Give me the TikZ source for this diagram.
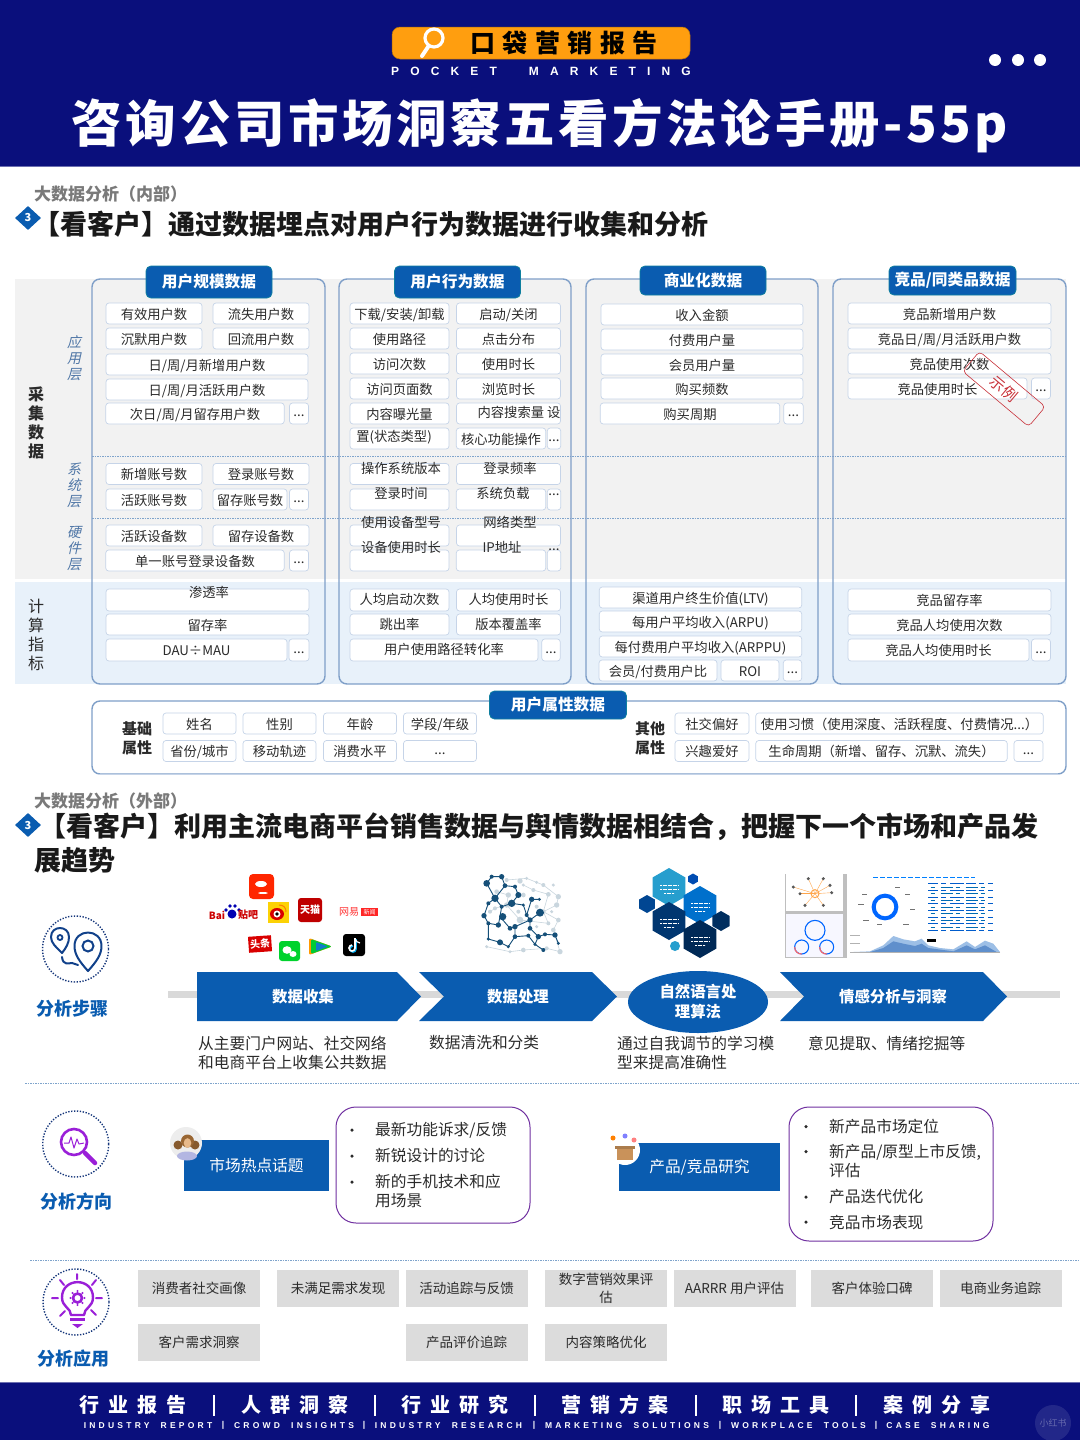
\documentclass[tikz,border=0pt]{standalone}
\usepackage{fontspec}
\usetikzlibrary{shapes.geometric}
\setmainfont{Noto Sans CJK SC}
\newfontfamily\titlefont[LetterSpace=7.1]{Noto Sans CJK SC}
\newfontfamily\brandfont[LetterSpace=30]{Noto Sans CJK SC}
\newfontfamily\footfont[LetterSpace=45]{Noto Sans CJK SC}
\newfontfamily\slantfont[FakeSlant=0.22]{Noto Sans CJK SC}
\newfontfamily\pocketfont[LetterSpace=93, WordSpace=2.2]{Liberation Sans}
\newfontfamily\footenfont[LetterSpace=38, WordSpace=2]{Liberation Sans}

\definecolor{navy}{HTML}{0A0F7C}
\definecolor{amber}{HTML}{FF9E0F}
\definecolor{brandblue}{HTML}{0A5CB0}
\definecolor{ink}{HTML}{2B2B2B}
\definecolor{cellline}{HTML}{C6D4E8}
\definecolor{panelline}{HTML}{7F9FC8}
\definecolor{sheetgrey}{HTML}{F2F2F2}
\definecolor{sheetblue}{HTML}{E8F1FA}
\definecolor{stampred}{HTML}{C8323A}
\definecolor{tagteal}{HTML}{0F7F9F}
\definecolor{violet}{HTML}{9A1FD8}
\definecolor{boxviolet}{HTML}{7030A0}
\definecolor{ringblue}{HTML}{14357A}
\definecolor{greycell}{HTML}{DCDCDC}
\definecolor{dashblue}{HTML}{7FA4CC}
\definecolor{molblue}{HTML}{154F78}
\definecolor{mollight}{HTML}{C9D6DE}
\definecolor{layerblue}{HTML}{4F76A6}
\definecolor{chartlight}{HTML}{9DBFE6}
\definecolor{chartdeep}{HTML}{5F8FCC}
\definecolor{giftbrown}{HTML}{C9925A}

\tikzset{
    cell/.style 2 args={draw=cellline, fill=white, rounded corners=3pt, line width=0.7pt,
        minimum width=#1pt, minimum height=#2pt, inner sep=0pt, text=ink,
        font=\fontsize{13.3}{15}\selectfont, text height=12pt, text depth=1pt},
    dotcell/.style 2 args={cell={#1}{#2}, text height=8pt, text depth=2pt},
    ctext/.style={inner sep=0pt, text=ink, font=\fontsize{13.3}{15}\selectfont},
    panel/.style 2 args={draw=panelline, rounded corners=8pt, line width=1.4pt,
        minimum width=#1pt, minimum height=#2pt, inner sep=0pt},
    tag/.style 2 args={draw=tagteal, fill=brandblue, rounded corners=5pt, line width=0.8pt,
        minimum width=#1pt, minimum height=#2pt, inner sep=0pt, text=white,
        font=\fontsize{15.7}{17}\selectfont\bfseries},
    sidehead/.style={inner sep=0pt, text=ink, align=center, font=\fontsize{15}{19}\selectfont\bfseries},
    layer/.style={inner sep=0pt, text=layerblue, font=\fontsize{14}{16}\selectfont\slantfont, align=center},
    sechead/.style={anchor=west, inner sep=0pt, text=black!52, font=\fontsize{17}{19}\selectfont\bfseries},
    secbody/.style={anchor=west, inner sep=0pt, text=black!90, font=\fontsize{27}{33}\selectfont\bfseries},
    secmark/.style={diamond, fill=brandblue, minimum width=26pt, minimum height=24pt, inner sep=0pt,
        text=white, font=\fontsize{11}{12}\selectfont\bfseries},
    flow/.style={fill=brandblue},
    flowtext/.style={inner sep=0pt, text=white, align=center, font=\fontsize{15.4}{20}\selectfont\bfseries},
    note/.style={anchor=west, inner sep=0pt, text=ink, align=left, font=\fontsize{15.7}{19}\selectfont},
    ring/.style={circle, draw=ringblue, line width=1.4pt, dash pattern=on 1.3pt off 1.6pt,
        minimum size=66pt, inner sep=0pt},
    rowhead/.style={inner sep=0pt, text=brandblue, font=\fontsize{18}{20}\selectfont\bfseries},
    topicbox/.style 2 args={fill=brandblue, minimum width=#1pt, minimum height=#2pt, inner sep=0pt,
        text=white, font=\fontsize{15.7}{17}\selectfont},
    listbox/.style 2 args={draw=boxviolet, fill=white, rounded corners=20pt, line width=1pt,
        minimum width=#1pt, minimum height=#2pt, inner sep=0pt},
    bullet/.style={circle, fill=ink, minimum size=3.5pt, inner sep=0pt},
    greybox/.style={fill=greycell, minimum width=122pt, minimum height=37pt, inner sep=0pt,
        text=ink, align=center, font=\fontsize{13.5}{18}\selectfont},
    hexa/.style={regular polygon, regular polygon sides=6, shape border rotate=30,
        minimum size=#1pt, inner sep=0pt},
    logotext/.style={inner sep=0pt, text=white, font=\fontsize{9}{10}\selectfont\bfseries},
    dashrule/.style={draw=dashblue, line width=0.8pt, dash pattern=on 1.5pt off 1pt},
}

\begin{document}
\begin{tikzpicture}[x=1pt, y=-1pt]
    \useasboundingbox (0,0) rectangle (1080,1440);
    \fill[white] (0,0) rectangle (1080,1440);

    % Header band
    \fill[navy] (0,0) rectangle (1080,166);
    \draw[navy!60!white, line width=0.8pt] (0,166) -- (1080,166);
    \node[fill=amber, draw=amber!70!black, rounded corners=8pt, line width=0.5pt, minimum width=298pt, minimum height=32pt, inner sep=0pt] (brand) at (541,43) {};
    \draw[white, line width=3.2pt] (434,38) circle[radius=9pt];
    \draw[white, line width=4pt, line cap=round] (428,47) -- (422,56);
    \node[inner sep=0pt, text=black, font=\fontsize{25}{27}\selectfont\bfseries\brandfont] (brandname) at (564,43) {口袋营销报告};
    \node[inner sep=0pt, text=white, font=\fontsize{12}{14}\selectfont\bfseries\pocketfont] (pocket) at (541,71) {POCKET MARKETING};
    \foreach \dotx/\dotn in {995/a, 1018/b, 1040/c}
        \node[circle, fill=white, minimum size=12pt, inner sep=0pt] (menu\dotn) at (\dotx,60) {};
    \node[inner sep=0pt, text=white, font=\fontsize{50.5}{54}\selectfont\bfseries\titlefont] (title) at (540,126) {咨询公司市场洞察五看方法论手册-55p};

    % Section one heading
    \node[sechead] (head1) at (34,194) {大数据分析（内部）};
    \node[secmark] (mark1) at (28,218) {3};
    \node[secbody] (body1) at (33,224) {【看客户】通过数据埋点对用户行为数据进行收集和分析};

    % Grey and blue sheets
    \fill[sheetgrey] (15,279) rectangle (1066,579);
    \fill[sheetblue] (15,582) rectangle (1066,684);
    \draw[dashrule] (92,456) -- (1066,456);
    \draw[dashrule] (92,518) -- (1066,518);

    % Left side labels
    \node[sidehead, font=\fontsize{16}{19}\selectfont\bfseries] (collect) at (36,423) {采\\集\\数\\据};
    \node[sidehead, font=\fontsize{16}{19}\selectfont] (compute) at (36,635) {计\\算\\指\\标};
    \node[layer] (appl) at (74,358.5) {应\\用\\层};
    \node[layer] (sysl) at (74,485) {系\\统\\层};
    \node[layer] (hwl) at (74,548.5) {硬\\件\\层};

    % Four panels
    \node[panel={233}{405}] (p1) at (208.5,481.5) {};
    \node[panel={232}{405}] (p2) at (455,481.5) {};
    \node[panel={232}{405}] (p3) at (702,481.5) {};
    \node[panel={233}{405}] (p4) at (949.5,481.5) {};
    \node[tag={126}{32}] (t1) at (209,282) {用户规模数据};
    \node[tag={126}{32}] (t2) at (457.5,282) {用户行为数据};
    \node[tag={126}{29}] (t3) at (703,280.5) {商业化数据};
    \node[tag={127}{29}] (t4) at (952.5,280.5) {竞品/同类品数据};

    % Panel one cells
    \node[cell={96}{21}] (u1) at (154,313.5) {有效用户数};
    \node[cell={96}{21}] (u2) at (261,313.5) {流失用户数};
    \node[cell={96}{21}] (u3) at (154,338.5) {沉默用户数};
    \node[cell={96}{21}] (u4) at (261,338.5) {回流用户数};
    \node[cell={202}{21}] (u5) at (207,364.5) {日/周/月新增用户数};
    \node[cell={202}{21}] (u6) at (207,389.5) {日/周/月活跃用户数};
    \node[cell={178.5}{21}] (u7) at (195,413.5) {次日/周/月留存用户数};
    \node[dotcell={19}{21}] (u8) at (299,413.5) {...};
    \node[cell={96}{21}] (u9) at (154,474) {新增账号数};
    \node[cell={96}{21}] (u10) at (261,474) {登录账号数};
    \node[cell={96}{21}] (u11) at (154,499.5) {活跃账号数};
    \node[cell={74}{21}] (u12) at (250,499.5) {留存账号数};
    \node[dotcell={19}{21}] (u13) at (299,499.5) {...};
    \node[cell={96}{21}] (u14) at (154,535.5) {活跃设备数};
    \node[cell={96}{21}] (u15) at (261,535.5) {留存设备数};
    \node[cell={178.5}{21}] (u16) at (195,560.5) {单一账号登录设备数};
    \node[dotcell={19}{21}] (u17) at (299,560.5) {...};
    \node[cell={203}{22}] (u18) at (207.5,600) {};
    \node[ctext] (u18t) at (209,592) {渗透率};
    \node[cell={203}{21}] (u19) at (207.5,624.5) {留存率};
    \node[cell={181}{22}] (u20) at (196.5,650) {DAU÷MAU};
    \node[dotcell={20}{22}] (u21) at (299,650) {...};

    % Panel two cells
    \node[cell={99}{21}] (a1) at (399.5,313.5) {下载/安装/卸载};
    \node[cell={104}{21}] (a2) at (508.5,313.5) {启动/关闭};
    \node[cell={99}{21}] (a3) at (399.5,338.5) {使用路径};
    \node[cell={104}{21}] (a4) at (508.5,338.5) {点击分布};
    \node[cell={99}{21}] (a5) at (399.5,363.5) {访问次数};
    \node[cell={104}{21}] (a6) at (508.5,363.5) {使用时长};
    \node[cell={99}{21}] (a7) at (399.5,388.5) {访问页面数};
    \node[cell={104}{21}] (a8) at (508.5,388.5) {浏览时长};
    \node[cell={99}{21}] (a9) at (399.5,413.5) {内容曝光量};
    \node[cell={104}{21}] (a10) at (508.5,413.5) {};
    \node[ctext] (a10t) at (519,412) {内容搜索量 设};
    \node[cell={99}{21}] (a11) at (399.5,438.5) {};
    \node[ctext] (a11t) at (394,437) {置(状态类型)};
    \node[cell={89.5}{21}] (a12) at (501,438.5) {核心功能操作};
    \node[dotcell={13.5}{21}] (a13) at (554,438.5) {...};
    \node[cell={99}{21}] (a14) at (399.5,474) {};
    \node[ctext] (a14t) at (401,468) {操作系统版本};
    \node[cell={104}{21}] (a15) at (508.5,474) {};
    \node[ctext] (a15t) at (510,468) {登录频率};
    \node[cell={99}{21}] (a16) at (399.5,499.5) {};
    \node[ctext] (a16t) at (401,493) {登录时间};
    \node[cell={89.5}{21}] (a17) at (501,499.5) {};
    \node[ctext] (a17t) at (503,493) {系统负载};
    \node[cell={13.5}{21}] (a18) at (554,499.5) {};
    \node[ctext] (a18t) at (554,495) {...};
    \node[cell={99}{21}] (a19) at (399.5,535.5) {};
    \node[ctext] (a19t) at (401,522) {使用设备型号};
    \node[cell={104}{21}] (a20) at (508.5,535.5) {};
    \node[ctext] (a20t) at (510,522) {网络类型};
    \node[cell={99}{21}] (a21) at (399.5,560.5) {};
    \node[ctext] (a21t) at (401,547) {设备使用时长};
    \node[cell={89.5}{21}] (a22) at (501,560.5) {};
    \node[ctext] (a22t) at (502,547) {IP地址};
    \node[cell={13.5}{21}] (a23) at (554,560.5) {};
    \node[ctext] (a23t) at (554,550) {...};
    \node[cell={99}{22}, text height=10pt] (a24) at (399.5,600) {人均启动次数};
    \node[cell={104}{22}, text height=10pt] (a25) at (508.5,600) {人均使用时长};
    \node[cell={99}{21}, text height=10pt] (a26) at (399.5,624.5) {跳出率};
    \node[cell={104}{21}, text height=10pt] (a27) at (508.5,624.5) {版本覆盖率};
    \node[cell={188}{22}, text height=10pt] (a28) at (444,650) {用户使用路径转化率};
    \node[dotcell={18.5}{22}] (a29) at (551,650) {...};

    % Panel three cells
    \node[cell={202}{21}] (b1) at (702,314.5) {收入金额};
    \node[cell={202}{21}] (b2) at (702,339.5) {付费用户量};
    \node[cell={202}{21}] (b3) at (702,364.5) {会员用户量};
    \node[cell={202}{21}] (b4) at (702,388.5) {购买频数};
    \node[cell={179.5}{21}] (b5) at (690,413.5) {购买周期};
    \node[dotcell={19.5}{21}] (b6) at (793.5,413.5) {...};
    \node[cell={202.5}{21}] (b7) at (700.5,597.5) {渠道用户终生价值(LTV)};
    \node[cell={202.5}{21}] (b8) at (700.5,621.5) {每用户平均收入(ARPU)};
    \node[cell={202.5}{21}] (b9) at (700.5,646.5) {每付费用户平均收入(ARPPU)};
    \node[cell={118}{21}] (b10) at (658,670.5) {会员/付费用户比};
    \node[cell={58}{21}] (b11) at (750,670.5) {ROI};
    \node[dotcell={18.5}{21}] (b12) at (792.5,670.5) {...};

    % Panel four cells
    \node[cell={203}{21}] (c1) at (949.5,313.5) {竞品新增用户数};
    \node[cell={203}{21}] (c2) at (949.5,338.5) {竞品日/周/月活跃用户数};
    \node[cell={203}{21}] (c3) at (949.5,363.5) {竞品使用次数};
    \node[cell={179}{21}] (c4) at (937.5,388.5) {竞品使用时长};
    \node[dotcell={19}{21}] (c5) at (1041,388.5) {...};
    \node[cell={203}{22}] (c6) at (949.5,600) {竞品留存率};
    \node[cell={203}{21}] (c7) at (949.5,624.5) {竞品人均使用次数};
    \node[cell={181}{22}] (c8) at (938.5,650) {竞品人均使用时长};
    \node[dotcell={19}{22}] (c9) at (1041,650) {...};
    \node[draw=stampred, rounded corners=4pt, line width=0.6pt, rotate=-40, minimum width=86pt, minimum height=26pt, inner sep=0pt, text=stampred, font=\fontsize{15}{16}\selectfont] (stamp) at (1004,389) {示例};

    % User attribute panel
    \node[panel={974}{73}, fill=white] (attr) at (579,737.5) {};
    \draw[cellline, line width=1.4pt] ([xshift=8pt]attr.south west) -- ([xshift=-8pt]attr.south east);
    \node[tag={137}{28}] (attrtag) at (558,705) {用户属性数据};
    \node[sidehead] (basic) at (137,738) {基础\\属性};
    \node[sidehead] (other) at (650,738) {其他\\属性};
    \node[cell={73}{21}] (d1) at (199.5,723.5) {姓名};
    \node[cell={73}{21}] (d2) at (279.5,723.5) {性别};
    \node[cell={73}{21}] (d3) at (360,723.5) {年龄};
    \node[cell={73}{21}] (d4) at (440,723.5) {学段/年级};
    \node[cell={73}{21}] (d5) at (199.5,751) {省份/城市};
    \node[cell={73}{21}] (d6) at (279.5,751) {移动轨迹};
    \node[cell={73}{21}] (d7) at (360,751) {消费水平};
    \node[dotcell={73}{21}] (d8) at (440,751) {...};
    \node[cell={74}{21}] (e1) at (712,723.5) {社交偏好};
    \node[cell={287.5}{21}] (e2) at (899.5,723.5) {使用习惯（使用深度、活跃程度、付费情况...）};
    \node[cell={74}{21}] (e3) at (712,751) {兴趣爱好};
    \node[cell={251.5}{21}] (e4) at (881.5,751) {生命周期（新增、留存、沉默、流失）};
    \node[dotcell={29}{21}] (e5) at (1028.5,751) {...};

    % Section two heading
    \node[sechead] (head2) at (34,801) {大数据分析（外部）};
    \node[secmark] (mark2) at (28,825) {3};
    \node[secbody] (body2) at (39,827) {【看客户】利用主流电商平台销售数据与舆情数据相结合，把握下一个市场和产品发};
    \node[secbody] (body3) at (34,860) {展趋势};

    % Analysis steps row
    \node[ring] (ring1) at (75.5,949) {};
    \draw[ringblue!70!brandblue, line width=2pt, line join=round] (62,953) .. controls (56,947) and (51,943) .. (51,937) .. controls (51,925) and (69,925) .. (69,937) .. controls (69,943) and (66,948) .. cycle;
    \draw[ringblue!70!brandblue, line width=1.8pt] (60,937.5) circle[radius=2.5pt];
    \draw[ringblue!70!brandblue, line width=2pt, line join=round] (88,971) .. controls (80,962) and (74.5,955) .. (74.5,946) .. controls (74.5,928) and (101.5,928) .. (101.5,946) .. controls (101.5,955) and (96,962) .. cycle;
    \draw[ringblue!70!brandblue, line width=2pt] (88,946) circle[radius=5.5pt];
    \draw[ringblue!70!brandblue, line width=2pt, line cap=round] (62,957) .. controls (63,966) and (69,963) .. (72,963) .. controls (74,963) and (76,965) .. (78,965);
    \node[rowhead] (rowa) at (72,1009) {分析步骤};

    % Logos
    \fill[red!70!orange, rounded corners=4pt] (249,874) rectangle (274,899);
    \fill[white] (261,884) ellipse[x radius=6pt, y radius=3pt];
    \fill[white] (263,893) ellipse[x radius=5pt, y radius=1pt];
    \node[inner sep=0pt, text=red!80!black, font=\fontsize{10}{11}\selectfont\bfseries] (baia) at (217,915) {Bai};
    \fill[blue!70!black] (232,914) circle[radius=4.5pt];
    \foreach \pawx/\pawy in {226/910, 230/906, 235/906, 239/910}
        \fill[blue!70!black] (\pawx,\pawy) circle[radius=1.8pt];
    \node[inner sep=0pt, text=red!80!black, font=\fontsize{10}{11}\selectfont\bfseries] (baib) at (248,915) {贴吧};
    \fill[yellow!70!orange] (268,902) rectangle (289,923);
    \fill[red!85!black] (277,914) ellipse[x radius=7pt, y radius=6pt];
    \fill[white] (277,914) circle[radius=3.5pt];
    \fill[black] (277,914) circle[radius=1.8pt];
    \draw[orange, line width=1pt] (279,905) .. controls (284,905) and (286,908) .. (286,912);
    \node[fill=red!75!black, rounded corners=3pt, minimum width=24pt, minimum height=24pt, inner sep=0pt, logotext, font=\fontsize{10}{11}\selectfont\bfseries] (tmall) at (310,910) {天猫};
    \node[inner sep=0pt, text=red!80, font=\fontsize{10}{11}\selectfont] (neta) at (349,912) {网易};
    \node[fill=red!85, minimum width=17pt, minimum height=8pt, inner sep=0pt, text=white, font=\fontsize{6}{7}\selectfont] (netb) at (369.5,912) {新闻};
    \node[fill=red!85!black, rotate=4, minimum width=23pt, minimum height=16pt, inner sep=0pt, logotext, font=\fontsize{10}{11}\selectfont\bfseries] (toutiao) at (260,944) {头条};
    \fill[green!65!teal, rounded corners=3pt] (279,941) rectangle (300,961);
    \fill[white] (287,950) ellipse[x radius=4.5pt, y radius=3.8pt];
    \fill[white] (293,954) ellipse[x radius=3.5pt, y radius=3pt];
    \fill[orange!80!yellow, rounded corners=2pt] (309,938) -- (332,946.5) -- (309,955) -- cycle;
    \fill[green!60!teal, rounded corners=2pt] (311,939) -- (332,946.5) -- (311,954) -- cycle;
    \fill[cyan!60!blue, rounded corners=1pt] (316,942) -- (328,946.5) -- (316,951) -- cycle;
    \fill[black, rounded corners=3pt] (343,934) rectangle (365,956);
    \draw[cyan, line width=1.6pt] (356,939) -- (356,949) .. controls (356,953) and (350,953) .. (350,949) .. controls (350,947) and (352,946) .. (353,946);
    \draw[white, line width=1.6pt] (355,938) -- (355,948) .. controls (355,952) and (349,952) .. (349,948) .. controls (349,946) and (351,945) .. (352,945);
    \draw[white, line width=1.2pt] (355,939) .. controls (356,941) and (358,943) .. (360,943);

    % Molecule picture
    \begin{scope}[shift={(190,865)}, scale=1/3]
        \draw[mollight, line width=0.6pt] (950,45) -- (1010,40) -- (1060,60) -- (1105,95) -- (1100,120) -- (1060,140) -- (1105,165) -- (1090,195) -- (1110,260) -- (1070,250) -- (1000,255) -- (960,260) -- (890,245);
        \draw[mollight, line width=0.6pt] (920,80) -- (955,90) -- (950,120) -- (915,130) -- (900,140) (1000,60) -- (1030,75) -- (1075,88) -- (1060,140) -- (1075,175) -- (990,165) -- (950,120);
        \foreach \mx/\my/\mr in {950/45/6, 990/48/8, 1010/40/5, 1040/52/5, 1060/60/6, 1090/60/5, 1075/88/7, 1105/95/8, 1100/120/8, 1060/140/7, 1105/165/7, 1075/175/6, 1090/195/7, 1110/260/8, 1070/250/6, 1000/255/7, 960/260/5, 890/245/5, 920/80/7, 955/90/8, 900/140/6, 990/165/10, 950/120/8, 915/130/6, 1000/60/5, 1030/75/6, 1000/90/7, 1040/125/6, 985/140/6, 1085/140/5, 1040/185/5}
            \fill[mollight] (\mx,\my) circle[radius=\mr pt];
        \draw[molblue, line width=0.9pt, line join=round] (890,55) -- (905,35) -- (935,35) -- (945,62) -- (975,65) -- (985,90) -- (965,115) -- (935,125) -- (915,100) -- (895,115) -- (882,152) -- (895,175) -- (925,180) -- (930,155) -- (960,190) -- (975,185) -- (1020,165) -- (1010,150) -- (1025,103) -- (1048,103);
        \draw[molblue, line width=0.9pt, line join=round] (1050,143) -- (1020,165) -- (1020,190) -- (1045,215) -- (1065,208) -- (1095,210) -- (1105,235);
        \draw[molblue, line width=0.9pt, line join=round] (1060,255) -- (1035,238) -- (1015,212) -- (975,215) -- (955,245) -- (930,232) -- (895,222) -- (895,175);
        \draw[molblue, line width=0.9pt] (935,125) -- (930,155) (965,115) -- (1000,120) -- (1010,150) (975,185) -- (975,215) (1045,215) -- (1035,238) (890,55) -- (915,100) (945,62) -- (915,100);
        \foreach \mx/\my/\mr in {890/55/10, 905/35/6, 935/35/8, 945/62/7, 975/65/6, 985/90/9, 965/115/11, 935/125/6, 915/100/11, 895/115/6, 882/152/8, 895/175/6, 925/180/8, 938/155/11, 960/190/7, 975/185/8, 1010/150/6, 1025/103/8, 1048/103/5, 1050/143/12, 1020/165/8, 1020/190/7, 1045/215/8, 1065/208/6, 1095/210/8, 1105/235/5, 1060/255/6, 1035/238/5, 1015/212/6, 975/215/7, 955/245/5, 930/232/9, 895/222/5, 1000/120/5}
            \fill[molblue] (\mx,\my) circle[radius=\mr pt];
    \end{scope}

    % Hexagon picture
    \node[hexa=38, fill=cyan!65!teal] (hx1) at (669,887) {};
    \node[hexa=11, fill=blue!40!teal] (hx2) at (693,879) {};
    \node[hexa=38, fill=blue!45!cyan!80!black] (hx3) at (700,905) {};
    \node[hexa=18, fill=blue!35!teal!85!black] (hx4) at (647,904) {};
    \node[hexa=38, fill=blue!35!teal!65!black] (hx5) at (669,921) {};
    \node[hexa=20, fill=blue!35!teal!55!black] (hx6) at (721,921) {};
    \node[hexa=38, fill=blue!35!teal!50!black] (hx7) at (700,939) {};
    \fill[cyan!65!teal] (675,946) circle[radius=5pt];
    \foreach \hexx/\hexy in {669/887, 700/905, 669/921, 700/939} {
        \draw[white, line width=0.8pt, dash pattern=on 2pt off 0.5pt] (\hexx-9,\hexy-2) -- (\hexx+9,\hexy-2);
        \draw[white, line width=0.8pt, dash pattern=on 2pt off 0.5pt] (\hexx-9,\hexy+2) -- (\hexx+9,\hexy+2);
        \draw[white, line width=0.8pt, dash pattern=on 2pt off 0.5pt] (\hexx-5,\hexy+6) -- (\hexx+5,\hexy+6);
    }

    % Dashboard picture
    \begin{scope}[shift={(620,862)}, scale=1/3]
        \fill[black!25] (495,35) rectangle (680,287);
        \fill[white] (497,37) rectangle (670,148);
        \fill[blue!3] (497,155) rectangle (670,285);
        \foreach \spx/\spy in {520/75, 540/95, 565/50, 610/50, 630/70, 635/92, 610/130, 555/130}
            \draw[orange!70, line width=0.4pt] (585,95) -- (\spx,\spy);
        \foreach \spx/\spy in {520/75, 540/95, 565/50, 610/50, 630/70, 635/92, 610/130, 555/130}
            \fill[black!65] (\spx,\spy) circle[radius=5pt];
        \draw[orange!70, line width=1pt] (585,95) circle[radius=12pt];
        \draw[blue!60!cyan, line width=1.1pt] (585,205) circle[radius=30pt];
        \draw[blue!60!cyan, line width=1.1pt] (545,255) circle[radius=21pt];
        \draw[blue!60!cyan, line width=1.1pt] (620,255) circle[radius=21pt];
        \draw[red!60, line width=1.1pt] (524,255) .. controls (524,270) and (535,276) .. (545,276);
        \draw[red!60, line width=1.1pt] (599,255) .. controls (599,270) and (610,276) .. (620,276);
        \draw[blue!60!cyan, line width=4pt] (795,135) circle[radius=34pt];
        \foreach \spx/\spy in {725/95, 715/125, 730/175, 770/185, 825/75, 855/95, 870/140, 850/185}
            \fill[black!55] (\spx,\spy) rectangle ++(16,3);
        \draw[blue!50!cyan, line width=0.7pt, dash pattern=on 5pt off 2pt] (760,45) -- (1065,45);
        \foreach \cloudy in {65,85,...,205}
            \draw[blue!55!cyan!80!black, line width=0.8pt, dash pattern=on 10pt off 3pt on 5pt off 4pt on 14pt off 2pt] (925,\cloudy) -- (1118,\cloudy);
        \foreach \cloudy in {75,95,...,195}
            \draw[blue!40!cyan!70!black, line width=0.8pt, dash pattern=on 4pt off 6pt on 12pt off 3pt] (932,\cloudy) -- (1110,\cloudy);
        \fill[chartlight] (700,270) -- (750,268) -- (790,250) -- (820,222) -- (850,232) -- (885,238) -- (905,230) -- (925,250) -- (960,258) -- (1000,262) -- (1040,238) -- (1065,255) -- (1095,236) -- (1120,245) -- (1140,270) -- cycle;
        \fill[chartdeep] (750,270) -- (790,258) -- (820,238) -- (850,245) -- (885,252) -- (905,245) -- (925,258) -- (1000,268) -- (1040,250) -- (1065,262) -- (1095,250) -- (1130,270) -- cycle;
        \fill[black] (922,230) rectangle (948,240);
        \draw[black!30, line width=0.4pt] (690,270) -- (1140,270) (690,245) -- (720,245) (690,220) -- (720,220);
    \end{scope}

    % Flow band
    \fill[black!15] (168,991) rectangle (1060,998);
    \fill[flow] (197,972) -- (397,972) -- (421,996.5) -- (397,1021) -- (197,1021) -- cycle;
    \fill[flow] (419,972) -- (592,972) -- (617,996.5) -- (592,1021) -- (419,1021) -- (444,996.5) -- cycle;
    \fill[flow] (780,972) -- (983,972) -- (1007,996.5) -- (983,1021) -- (780,1021) -- (804,996.5) -- cycle;
    \node[ellipse, fill=brandblue, minimum width=140pt, minimum height=62pt, inner sep=0pt] (nlp) at (698,1002) {};
    \node[flowtext] (fa) at (303,997) {数据收集};
    \node[flowtext] (fb) at (518,997) {数据处理};
    \node[flowtext] (fc) at (698,1002) {自然语言处\\理算法};
    \node[flowtext] (fd) at (893,997) {情感分析与洞察};
    \node[note] (na) at (198,1052.5) {从主要门户网站、社交网络\\和电商平台上收集公共数据};
    \node[note] (nb) at (429,1043) {数据清洗和分类};
    \node[note] (nc) at (617,1052.5) {通过自我调节的学习模\\型来提高准确性};
    \node[note] (nd) at (808,1043) {意见提取、情绪挖掘等};
    \draw[dashrule] (25,1083) -- (1080,1083);

    % Analysis direction row
    \node[ring] (ring2) at (75.7,1144) {};
    \draw[violet, line width=2.6pt] (74,1142) circle[radius=13pt];
    \draw[violet, line width=4.5pt, line cap=round] (85,1153) -- (95,1163);
    \draw[violet, line width=1pt, line join=round] (64,1143) -- (69,1143) -- (71,1137) -- (74,1148) -- (77,1139) -- (79,1144) -- (84,1143);
    \node[rowhead] (rowb) at (76,1202) {分析方向};
    \node[topicbox={145}{51}] (topica) at (256.5,1165.5) {市场热点话题};
    \fill[black!7] (186,1143) circle[radius=16pt];
    \fill[brown!70!black] (178,1145) circle[radius=4.5pt];
    \fill[brown!70!black] (195,1145) circle[radius=4.5pt];
    \fill[brown!80!black] (187.5,1141) circle[radius=6.5pt];
    \fill[orange!30!brown!55] (187.5,1143) ellipse[x radius=3.8pt, y radius=4.8pt];
    \fill[cyan!25!blue!30] (187,1156) ellipse[x radius=10pt, y radius=4.5pt];
    \node[listbox={194}{116}] (lista) at (433,1165) {};
    \node[bullet] (la1) at (352,1130) {};
    \node[bullet] (la2) at (352,1156) {};
    \node[bullet] (la3) at (352,1182) {};
    \node[note] (lat1) at (375,1130) {最新功能诉求/反馈};
    \node[note] (lat2) at (375,1156) {新锐设计的讨论};
    \node[note] (lat3) at (375,1191) {新的手机技术和应\\用场景};
    \node[topicbox={161}{48}] (topicb) at (699.5,1167) {产品/竞品研究};
    \fill[white] (625,1150) circle[radius=15pt];
    \fill[giftbrown] (617,1146) rectangle (633,1160);
    \fill[giftbrown!85!black] (615,1146) rectangle (635,1149);
    \fill[orange] (613,1138) circle[radius=2.5pt];
    \fill[blue!50] (625,1136) circle[radius=2.5pt];
    \fill[red!50] (634,1140) circle[radius=2.5pt];
    \node[listbox={204}{134}] (listb) at (891,1174) {};
    \node[bullet] (lb1) at (806,1126.5) {};
    \node[bullet] (lb2) at (806,1151.5) {};
    \node[bullet] (lb3) at (806,1197) {};
    \node[bullet] (lb4) at (806,1222) {};
    \node[note] (lbt1) at (829,1126.5) {新产品市场定位};
    \node[note] (lbt2) at (829,1161) {新产品/原型上市反馈,\\评估};
    \node[note] (lbt3) at (829,1197) {产品迭代优化};
    \node[note] (lbt4) at (829,1222) {竞品市场表现};
    \draw[dashrule] (30,1260) -- (1080,1260);

    % Analysis application row
    \node[ring] (ring3) at (76,1302) {};
    \draw[violet, line width=2.4pt, line join=round] (71,1315) .. controls (71,1308) and (62,1307) .. (62,1297.5) .. controls (62,1277) and (93,1277) .. (93,1297.5) .. controls (93,1307) and (84,1308) .. (84,1315) -- cycle;
    \draw[violet, line width=2.6pt] (77.5,1298) circle[radius=4.5pt];
    \foreach \tooth in {0,45,...,315}
        \fill[violet] (77.5,1298) ++(\tooth:7) circle[radius=1.2pt];
    \draw[violet, line width=2pt, line cap=round] (77,1274) -- (77,1279) (60,1280) -- (64,1285) (96,1280) -- (92,1285) (52,1298) -- (58,1298) (96,1298) -- (102,1298) (60,1316) -- (65,1311) (96,1315) -- (91,1310);
    \draw[violet, line width=2.2pt] (70,1319.5) -- (85,1319.5);
    \fill[violet] (72,1324) -- (83,1324) -- (77.5,1328) -- cycle;
    \node[rowhead] (rowc) at (73,1359) {分析应用};
    \node[greybox] (g1) at (199,1288.5) {消费者社交画像};
    \node[greybox] (g2) at (338,1288.5) {未满足需求发现};
    \node[greybox] (g3) at (466.5,1288.5) {活动追踪与反馈};
    \node[greybox] (g4) at (606,1288.5) {数字营销效果评\\估};
    \node[greybox] (g5) at (734.5,1288.5) {AARRR 用户评估};
    \node[greybox] (g6) at (872,1288.5) {客户体验口碑};
    \node[greybox] (g7) at (1000.5,1288.5) {电商业务追踪};
    \node[greybox] (g8) at (199,1342) {客户需求洞察};
    \node[greybox] (g9) at (466.5,1342) {产品评价追踪};
    \node[greybox] (g10) at (606,1342) {内容策略优化};

    % Footer band
    \fill[navy] (0,1382) rectangle (1080,1440);
    \draw[navy!60!white, line width=0.6pt] (0,1382) -- (1080,1382);
    \foreach \nm/\fx/\ftext in {f1/133/行业报告, f2/294.5/人群洞察, f3/454.5/行业研究, f4/614.5/营销方案, f5/776/职场工具, f6/936.5/案例分享}
        \node[inner sep=0pt, text=white, font=\fontsize{20}{22}\selectfont\bfseries\footfont] (\nm) at (\fx,1405) {\ftext};
    \foreach \nm/\fx in {s1/214, s2/375, s3/535, s4/696, s5/856}
        \draw[white, line width=1.4pt] (\fx,1395) -- (\fx,1416);
    \foreach \nm/\fx/\ftext in {e1/148/INDUSTRY REPORT, e2/294/CROWD INSIGHTS, e3/448.5/INDUSTRY RESEARCH, e4/627/MARKETING SOLUTIONS, e5/798.5/WORKPLACE TOOLS, e6/938/CASE SHARING, v1/223/|, v2/364/|, v3/534/|, v4/720/|, v5/876/|}
        \node[inner sep=0pt, text=white, font=\fontsize{8.5}{10}\selectfont\bfseries\footenfont] (\nm) at (\fx,1425.5) {\ftext};
    \node[circle, fill=white, fill opacity=0.1, text opacity=0.3, text=white, minimum size=36pt, inner sep=0pt, font=\fontsize{9}{10}\selectfont] (mark) at (1053,1423) {小红书};
\end{tikzpicture}
\end{document}
